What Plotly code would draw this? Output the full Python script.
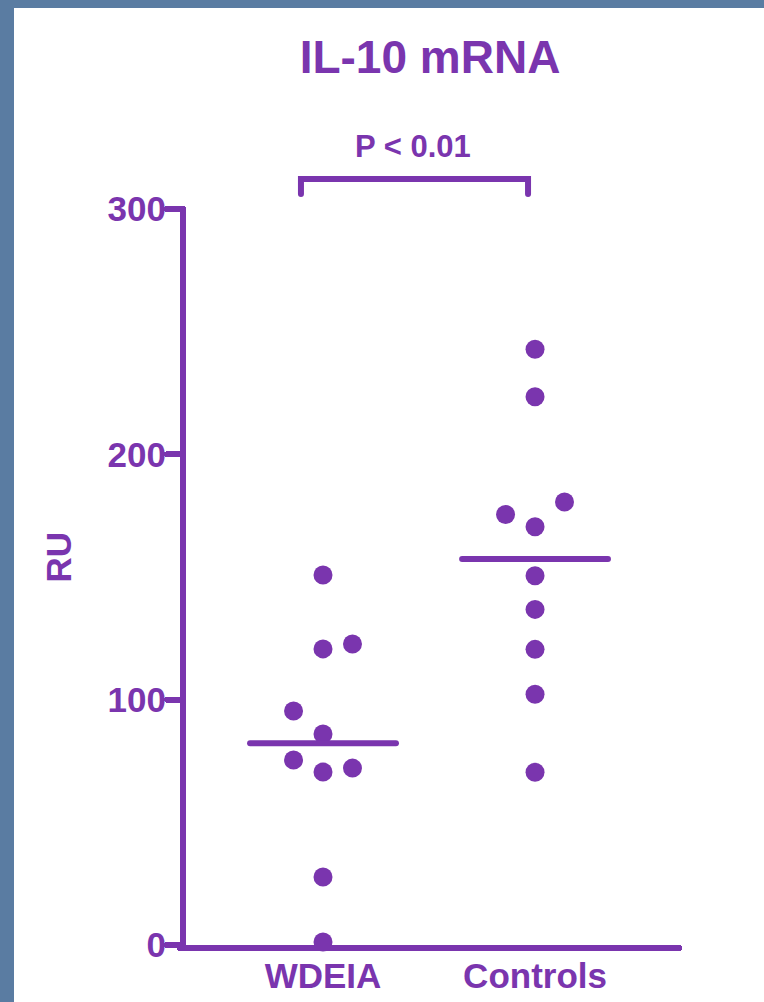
import plotly.graph_objects as go

# ---- data ----
categories = ["WDEIA", "Controls"]
wdeia_values = [150.8, 122.7, 120.7, 95.4, 86.0, 75.4, 72.1, 70.5, 27.7, 1.2]
control_values = [242.8, 223.5, 180.6, 175.5, 170.5, 150.5, 136.8, 120.5, 102.2, 70.4]
y_ticks = [0, 100, 200, 300]
title_text = "IL-10 mRNA"
y_label = "RU"
p_text = "P < 0.01"

# ---- layout / styling constants ----
wdeia_slots = [0, 1, 0, -1, 0, -1, 1, 0, 0, 0]
control_slots = [0, 0, 1, -1, 0, 0, 0, 0, 0, 0]
JIT = 0.139
HALF_MEAN = 0.344
PURPLE = "#7A35AE"
BLUE = "#5A7CA2"
FONT = "Liberation Sans, Arial, sans-serif"

W, H = 764, 1002
L, R, T, B = 186, 85, 209, 57
plot_w = W - L - R
plot_h = H - T - B
x_range = [-0.6462, 1.679]
y_range = [0, 300]

def px_to_paper_x(p):
    return (p - L) / plot_w

def px_to_paper_y(p):
    return (H - B - p) / plot_h

fig = go.Figure()

groups = [(wdeia_values, wdeia_slots), (control_values, control_slots)]
for gi, (vals, slots) in enumerate(groups):
    xs = [gi + s * JIT for s in slots]
    fig.add_trace(go.Scatter(
        x=xs, y=vals, mode="markers",
        marker=dict(size=19, color=PURPLE, line=dict(width=0)),
        cliponaxis=False, showlegend=False, hoverinfo="y"))
    mean = sum(vals) / len(vals)
    fig.add_trace(go.Scatter(
        x=[gi - HALF_MEAN, gi + HALF_MEAN], y=[mean, mean], mode="lines",
        line=dict(color=PURPLE, width=6), showlegend=False, hoverinfo="skip"))

# significance bracket (x in data units, y in paper via value/300)
br_x0, br_x1 = -0.104, 0.967
br_top, br_bot = 312.2, 306.1
yt = br_top / y_range[1]
yb = br_bot / y_range[1]
shapes = [
    dict(type="rect", xref="paper", yref="paper",
         x0=px_to_paper_x(14), x1=px_to_paper_x(W + 5),
         y0=px_to_paper_y(H + 5), y1=px_to_paper_y(8),
         fillcolor="white", line=dict(width=0), layer="below"),
    dict(type="path", xref="x", yref="paper",
         path=f"M {br_x0},{yb} L {br_x0},{yt} L {br_x1},{yt} L {br_x1},{yb}",
         line=dict(color=PURPLE, width=6)),
]

annotations = [
    dict(text=p_text, xref="x", yref="paper", x=0.425, y=325.3 / y_range[1],
         xanchor="center", yanchor="middle", showarrow=False,
         font=dict(family=FONT, size=31, color=PURPLE, weight="bold")),
    dict(text=y_label, xref="paper", yref="paper",
         x=px_to_paper_x(57.5), y=px_to_paper_y(557), textangle=-90,
         xanchor="center", yanchor="middle", showarrow=False,
         font=dict(family=FONT, size=35, color=PURPLE, weight="bold")),
]

fig.update_layout(
    width=W, height=H,
    margin=dict(l=L, r=R, t=T, b=B, pad=0, autoexpand=False),
    paper_bgcolor=BLUE, plot_bgcolor="white",
    title=dict(text=title_text, x=px_to_paper_x(430), xref="paper",
               y=1 - 57 / H, yanchor="middle", xanchor="center",
               font=dict(family=FONT, size=46, color=PURPLE, weight="bold")),
    shapes=shapes, annotations=annotations,
    xaxis=dict(range=x_range, tickvals=[0, 1], ticktext=categories,
               automargin=False,
               showline=True, linecolor=PURPLE, linewidth=6,
               showgrid=False, zeroline=False, ticks="",
               ticklabelstandoff=-5,
               tickfont=dict(family=FONT, size=35, color=PURPLE, weight="bold")),
    yaxis=dict(range=y_range, tickvals=y_ticks, automargin=False,
               showline=True, linecolor=PURPLE, linewidth=6,
               showgrid=False, zeroline=False, ticks="outside",
               ticklen=13, tickwidth=6, tickcolor=PURPLE,
               ticklabelstandoff=-6,
               tickfont=dict(family=FONT, size=35, color=PURPLE, weight="bold")),
)

post = """
document.body.style.margin = '0';
document.body.style.overflow = 'hidden';
function roundCaps(){
  document.querySelectorAll('path').forEach(function(p){
    p.style.strokeLinecap = 'round';
  });
}
roundCaps();
var gd = document.getElementById('{plot_id}');
if (gd && gd.on) { gd.on('plotly_afterplot', roundCaps); }
"""

fig.write_html("out.html", post_script=post, config={"displayModeBar": False})
